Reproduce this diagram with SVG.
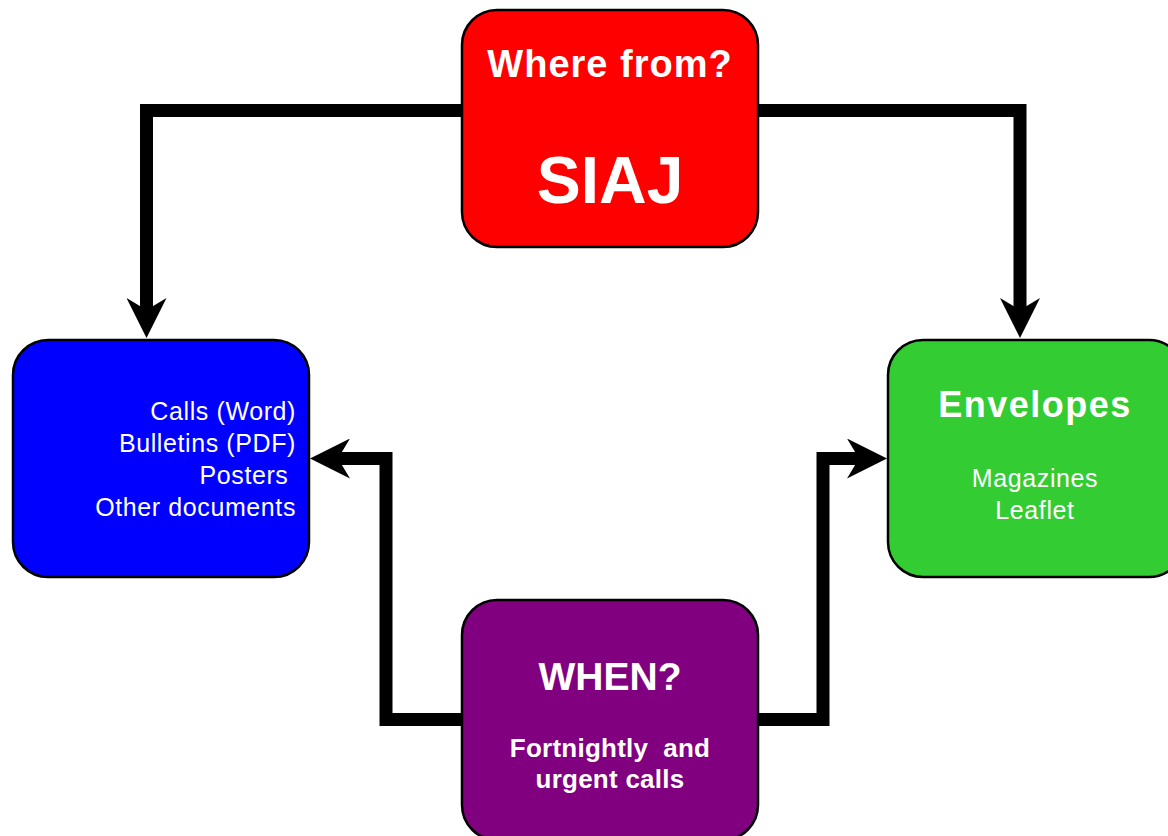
<svg xmlns="http://www.w3.org/2000/svg" width="1168" height="836" viewBox="0 0 1168 836">
<style>
.box{stroke:#000;stroke-width:2.5}
.conn{fill:none;stroke:#000;stroke-width:13;stroke-linejoin:miter;stroke-linecap:butt}
text{font-family:"Liberation Sans",Arial,sans-serif;fill:#fff}
.b{font-weight:bold}
.c{text-anchor:middle}
.r{text-anchor:end}
.body{font-size:25px;letter-spacing:0.6px}
</style>
<defs>
<marker id="ah" markerUnits="userSpaceOnUse" viewBox="0 -20 40 40" markerWidth="40" markerHeight="40" refX="12" refY="0" orient="auto">
<path d="M0,-20 L40,0 L0,20 L12,0 Z" fill="#000"/>
</marker>
</defs>
<rect width="1168" height="836" fill="#fff"/>
<g id="connectors">
<path class="conn" d="M462,110.5 H146.5 V310" marker-end="url(#ah)"/>
<path class="conn" d="M758,110.5 H1020 V310" marker-end="url(#ah)"/>
<path class="conn" d="M462,719.5 H386 V458.5 H338" marker-end="url(#ah)"/>
<path class="conn" d="M758,719.5 H823 V458.5 H859" marker-end="url(#ah)"/>
</g>
<g id="where-from">
<rect class="box" x="462" y="10" width="296" height="237" rx="35" fill="#ff0000"/>
<text class="b c" x="610" y="77" font-size="38" letter-spacing="1">Where from?</text>
<text class="b c" x="610" y="203" font-size="66">SIAJ</text>
</g>
<g id="documents">
<rect class="box" x="13" y="340" width="296" height="237" rx="35" fill="#0000ff"/>
<text class="r body" x="296" y="420">Calls (Word)</text>
<text class="r body" x="296" y="452">Bulletins (PDF)</text>
<text class="r body" x="296" y="484" xml:space="preserve">Posters </text>
<text class="r body" x="296" y="516">Other documents</text>
</g>
<g id="envelopes">
<rect class="box" x="888" y="340" width="296" height="237" rx="35" fill="#33cc33"/>
<text class="b c" x="1035" y="417" font-size="36" letter-spacing="1.5">Envelopes</text>
<text class="c body" x="1035" y="487">Magazines</text>
<text class="c body" x="1035" y="519">Leaflet</text>
</g>
<g id="when">
<rect class="box" x="462" y="600" width="296" height="240" rx="35" fill="#800080"/>
<text class="b c" x="610" y="690" font-size="39">WHEN?</text>
<text class="b c" x="610" y="757" font-size="26" letter-spacing="0.25" xml:space="preserve">Fortnightly  and</text>
<text class="b c" x="610" y="788" font-size="26" letter-spacing="0.25">urgent calls</text>
</g>
</svg>
